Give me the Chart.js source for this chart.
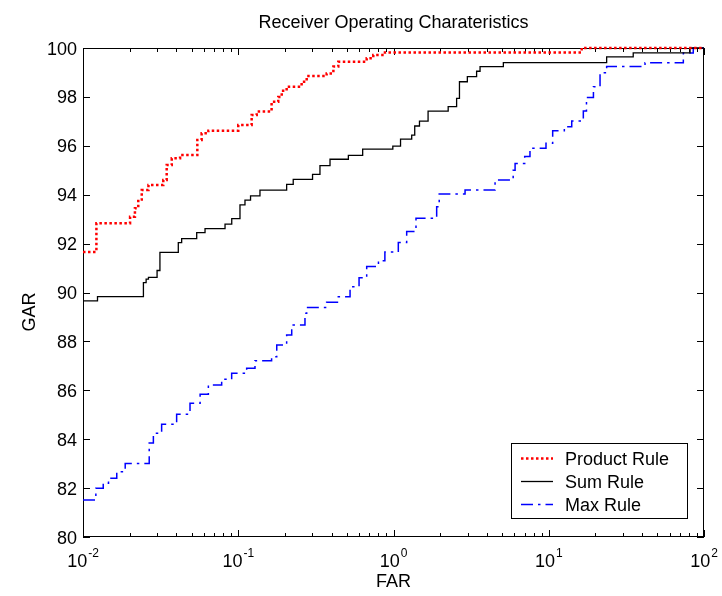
<!DOCTYPE html>
<html>
<head>
<meta charset="utf-8">
<script src="https://cdn.jsdelivr.net/npm/chart.js@4/dist/chart.umd.min.js"></script>
<style>
  html, body { margin: 0; padding: 0; background: #fff; }
  canvas { display: block; }
</style>
</head>
<body>
<canvas id="roc" width="722" height="596"></canvas>
<script>
// values, FAR / GAR in percent
// each point starts a horizontal step (chart.js 'before' = horizontal first)
const productFAR = [0.01, 0.0122, 0.0201, 0.0216, 0.0227, 0.0239, 0.0264, 0.0329, 0.0346, 0.0373,
  0.0422, 0.0545, 0.0581, 0.0642, 0.1, 0.122, 0.1315, 0.164, 0.181, 0.1906,
  0.205, 0.256, 0.276, 0.371, 0.41, 0.441, 0.672, 0.741, 0.881, 16.3, 100];
const productGAR = [91.66, 92.83, 93.1, 93.45, 93.8, 94.19, 94.4, 94.6, 95.21, 95.49,
  95.62, 96.24, 96.51, 96.62, 96.85, 97.26, 97.4, 97.8, 98.0, 98.25,
  98.42, 98.62, 98.85, 98.96, 99.24, 99.44, 99.58, 99.71, 99.82, 100, 100];

const sumFAR = [0.01, 0.0124, 0.0245, 0.0255, 0.0264, 0.03, 0.0313, 0.0411, 0.0432, 0.054,
  0.0611, 0.0822, 0.0908, 0.1026, 0.1105, 0.12, 0.138, 0.205, 0.226, 0.301,
  0.336, 0.39, 0.512, 0.633, 0.99, 1.11, 1.31, 1.37, 1.47, 1.67,
  2.25, 2.55, 2.66, 2.99, 3.43, 3.61, 5.1, 23.6, 35, 81.3, 100];
const sumGAR = [89.66, 89.83, 90.4, 90.55, 90.62, 90.9, 91.64, 92.04, 92.2, 92.45,
  92.61, 92.8, 93.02, 93.58, 93.78, 93.95, 94.19, 94.42, 94.63, 94.83,
  95.19, 95.45, 95.61, 95.86, 95.99, 96.27, 96.44, 96.81, 97.01, 97.42,
  97.6, 97.94, 98.62, 98.83, 99.05, 99.24, 99.4, 99.64, 99.8, 100, 100];

const maxFAR = [0.01, 0.0121, 0.0135, 0.0146, 0.0165, 0.0187, 0.0267, 0.0284, 0.0321, 0.0401,
  0.0489, 0.0568, 0.0642, 0.0782, 0.0907, 0.1133, 0.1282, 0.164, 0.177, 0.205,
  0.221, 0.269, 0.276, 0.371, 0.441, 0.525, 0.6, 0.672, 0.8, 0.88,
  1.074, 1.216, 1.396, 1.897, 1.97, 2.89, 4.51, 5.9, 6.07, 7.0,
  7.57, 9.6, 10.6, 12.6, 14.06, 16.7, 17.5, 19.4, 21.4, 23.6,
  41.7, 73.6, 85.3, 100];
const maxGAR = [81.51, 81.99, 82.2, 82.4, 82.67, 83.01, 83.84, 84.24, 84.61, 85.02,
  85.47, 85.84, 86.22, 86.45, 86.7, 86.9, 87.21, 87.37, 87.85, 88.26,
  88.67, 89.15, 89.39, 89.6, 89.83, 90.24, 90.6, 91.06, 91.3, 91.66,
  92.05, 92.49, 93.04, 93.51, 94.03, 94.19, 94.6, 95.0, 95.28, 95.56,
  95.9, 96.1, 96.62, 96.78, 97.01, 97.42, 97.98, 98.42, 98.99, 99.24,
  99.4, 99.8, 100, 100];

const seriesNames = ['Product Rule', 'Sum Rule', 'Max Rule'];
const xDecades = [0.01, 0.1, 1, 10, 100];
const xExponents = ['-2', '-1', '0', '1', '2'];
const yTicks = [80, 82, 84, 86, 88, 90, 92, 94, 96, 98, 100];

const chartTitle = 'Receiver Operating Charateristics';
const xTitle = 'FAR';
const yTitle = 'GAR';

const FONT = '"Liberation Sans", Arial, Helvetica, sans-serif';

function pts(xs, ys) {
  return xs.map((x, i) => ({ x: x, y: ys[i] }));
}

// matlab style box, inward ticks, labels with exponents
const matlabAxes = {
  id: 'matlabAxes',
  beforeDatasetsDraw(chart) {
    const ctx = chart.ctx, a = chart.chartArea;
    const xs = chart.scales.x, ys = chart.scales.y;
    ctx.save();
    ctx.strokeStyle = '#000';
    ctx.lineWidth = 1;
    ctx.strokeRect(a.left + 0.5, a.top + 0.5, a.right - a.left - 1, a.bottom - a.top - 1);

    ctx.beginPath();
    // x ticks: decades long, 2..9 short
    for (let d = 0; d < xDecades.length; d++) {
      for (let m = 1; m <= 9; m++) {
        if (d == xDecades.length - 1 && m > 1) break;
        const v = xDecades[d] * m;
        const px = Math.round(xs.getPixelForValue(v)) + 0.5;
        const len = m == 1 ? 7 : 4;
        ctx.moveTo(px, a.bottom); ctx.lineTo(px, a.bottom - len);
        ctx.moveTo(px, a.top); ctx.lineTo(px, a.top + len);
      }
    }
    for (const t of yTicks) {
      const py = Math.round(ys.getPixelForValue(t)) + 0.5;
      ctx.moveTo(a.left, py); ctx.lineTo(a.left + 7, py);
      ctx.moveTo(a.right, py); ctx.lineTo(a.right - 7, py);
    }
    ctx.stroke();

    ctx.fillStyle = '#000';
    // y labels
    ctx.font = '18px ' + FONT;
    ctx.textAlign = 'right';
    ctx.textBaseline = 'alphabetic';
    for (const t of yTicks) {
      ctx.fillText(String(t), a.left - 6, ys.getPixelForValue(t) + 6.5);
    }
    // x labels 10^n
    ctx.textAlign = 'left';
    xDecades.forEach((v, i) => {
      const px = xs.getPixelForValue(v);
      ctx.font = '18px ' + FONT;
      const w10 = ctx.measureText('10').width;
      ctx.font = '12px ' + FONT;
      const we = ctx.measureText(xExponents[i]).width;
      const x0 = px - (w10 + 1 + we) / 2;
      ctx.font = '18px ' + FONT;
      ctx.fillText('10', x0, a.bottom + 30);
      ctx.font = '12px ' + FONT;
      ctx.fillText(xExponents[i], x0 + w10 + 1, a.bottom + 20);
    });

    // titles
    ctx.font = '18px ' + FONT;
    ctx.textAlign = 'center';
    ctx.fillText(chartTitle, (a.left + a.right) / 2, 28);
    ctx.fillText(xTitle, (a.left + a.right) / 2, a.bottom + 50);
    ctx.save();
    ctx.translate(35, 312);
    ctx.rotate(-Math.PI / 2);
    ctx.fillText(yTitle, 0, 0);
    ctx.restore();
    ctx.restore();
  },
  afterDraw(chart) {
    // legend box inside the plot, lower right
    const ctx = chart.ctx;
    const bx = 511, by = 443, bw = 176, bh = 75;
    ctx.save();
    ctx.fillStyle = '#fff';
    ctx.fillRect(bx, by, bw, bh);
    ctx.strokeStyle = '#000';
    ctx.lineWidth = 1;
    ctx.strokeRect(bx + 0.5, by + 0.5, bw, bh);
    chart.data.datasets.forEach((ds, i) => {
      const y = by + 15 + i * 23;
      ctx.beginPath();
      ctx.strokeStyle = ds.borderColor;
      ctx.lineWidth = ds.borderWidth;
      ctx.setLineDash(ds.borderDash || []);
      ctx.moveTo(521, y + 0.5);
      ctx.lineTo(553, y + 0.5);
      ctx.stroke();
      ctx.setLineDash([]);
      ctx.fillStyle = '#000';
      ctx.font = '18px ' + FONT;
      ctx.textAlign = 'left';
      ctx.textBaseline = 'alphabetic';
      ctx.fillText(ds.label, 565, y + 6.5);
    });
    ctx.restore();
  }
};

new Chart(document.getElementById('roc'), {
  type: 'line',
  data: {
    datasets: [
      {
        label: seriesNames[0], data: pts(productFAR, productGAR),
        borderColor: '#ff0000', borderWidth: 2.5, borderDash: [2.5, 2.5],
        stepped: 'before', pointRadius: 0, fill: false, clip: false
      },
      {
        label: seriesNames[1], data: pts(sumFAR, sumGAR),
        borderColor: '#000000', borderWidth: 1.3,
        stepped: 'before', pointRadius: 0, fill: false, clip: false
      },
      {
        label: seriesNames[2], data: pts(maxFAR, maxGAR),
        borderColor: '#0000ff', borderWidth: 1.5, borderDash: [12, 5, 2.5, 5],
        stepped: 'before', pointRadius: 0, fill: false, clip: false
      }
    ]
  },
  options: {
    responsive: false,
    animation: false,
    devicePixelRatio: 1,
    layout: { padding: { left: 83, top: 48, right: 18, bottom: 59 } },
    plugins: {
      legend: { display: false },
      tooltip: { enabled: false },
      title: { display: false }
    },
    scales: {
      x: { type: 'logarithmic', min: 0.01, max: 100, display: false },
      y: { type: 'linear', min: 80, max: 100, display: false }
    }
  },
  plugins: [matlabAxes]
});
</script>
</body>
</html>
